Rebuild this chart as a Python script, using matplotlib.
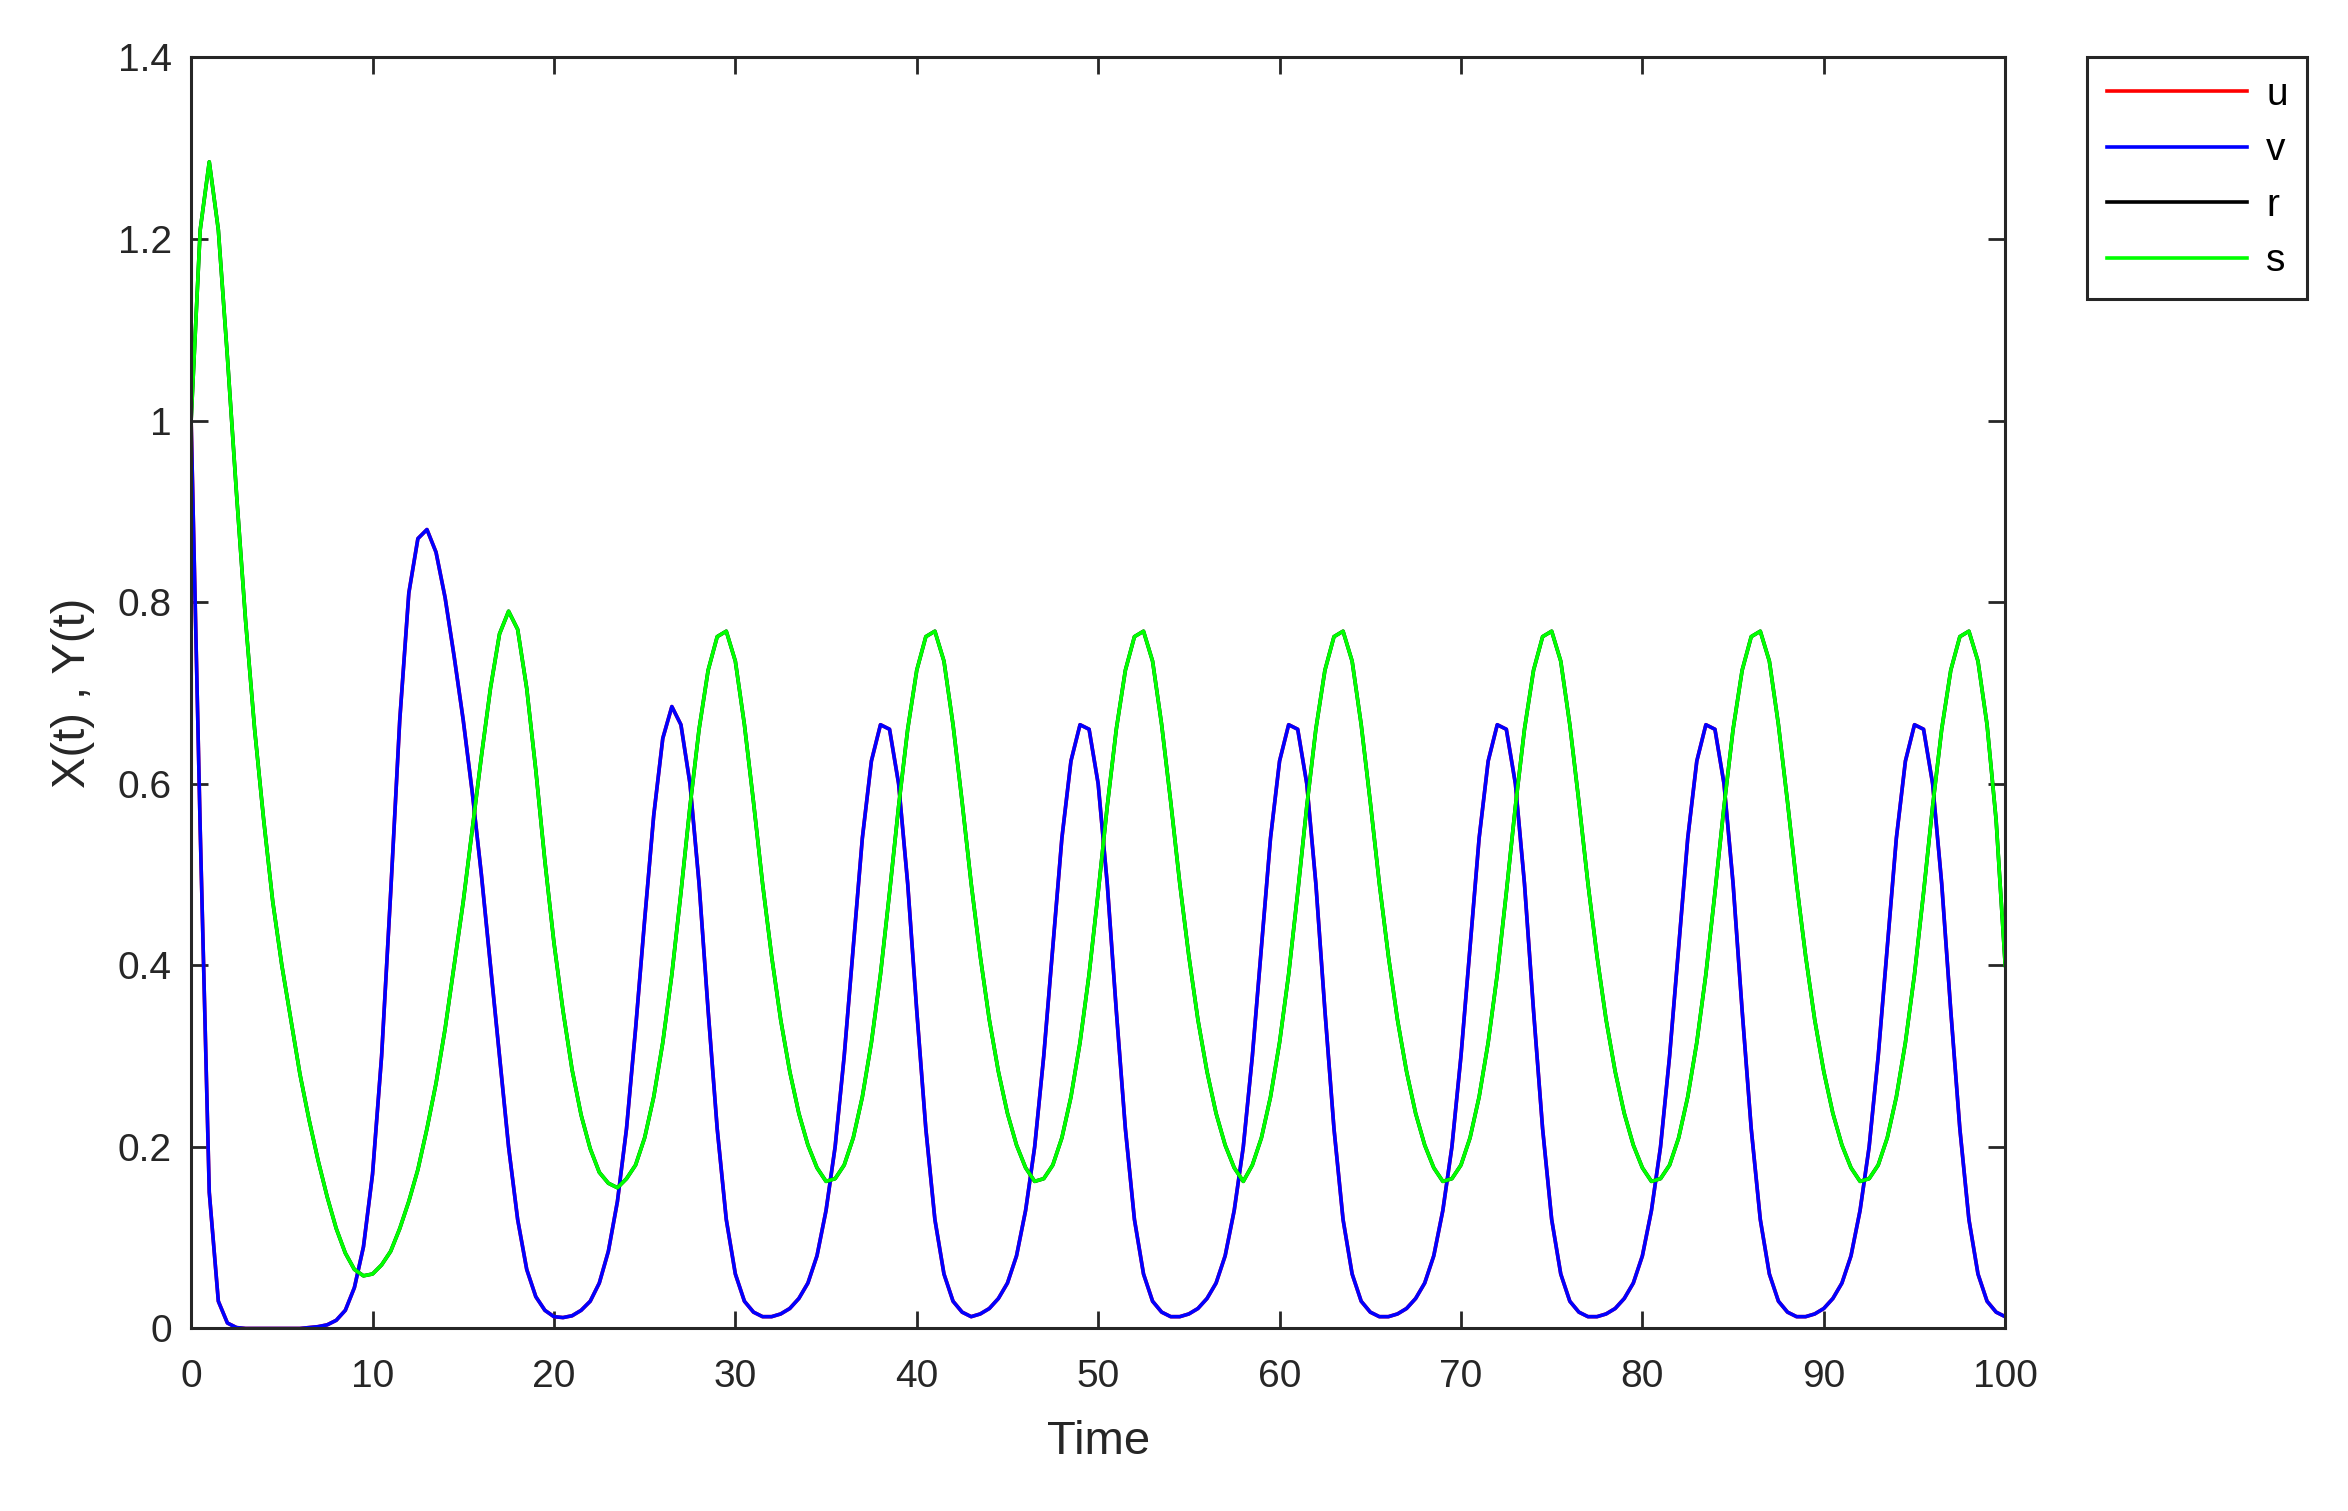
import numpy as np
import matplotlib
matplotlib.use("Agg")
import matplotlib.pyplot as plt

plt.rcParams['font.family'] = ['Liberation Sans', 'DejaVu Sans']

t = np.arange(0, 100.25, 0.5)

v_head = [1.0, 0.55, 0.15, 0.03, 0.006, 0.001, 0.0, 0.0, 0.0, 0.0, 0.0, 0.0, 0.0, 0.001, 0.002,
          0.004, 0.009, 0.02, 0.045, 0.09, 0.17, 0.3, 0.48, 0.67, 0.81, 0.87, 0.88, 0.855, 0.805,
          0.74, 0.67, 0.59, 0.5, 0.4, 0.3, 0.2, 0.12, 0.065, 0.035, 0.02, 0.013]
v_c1 = [0.012, 0.014, 0.02, 0.03, 0.05, 0.085, 0.14, 0.22, 0.33, 0.45, 0.565, 0.65, 0.685, 0.665,
        0.6, 0.49, 0.35, 0.22, 0.12, 0.06, 0.03, 0.018, 0.013]
v_c2 = [0.013, 0.016, 0.022, 0.033, 0.05, 0.08, 0.13, 0.2, 0.3, 0.42, 0.54, 0.625, 0.665, 0.66,
        0.6, 0.49, 0.35, 0.22, 0.12, 0.06, 0.03, 0.018, 0.013]
v_c3 = [0.016, 0.022, 0.033, 0.05, 0.08, 0.13, 0.2, 0.3, 0.42, 0.54, 0.625, 0.665, 0.66,
        0.6, 0.49, 0.35, 0.22, 0.12, 0.06, 0.03, 0.018, 0.013]
v_c4 = [0.013, 0.016, 0.022, 0.033, 0.05, 0.08, 0.13, 0.2, 0.3, 0.42, 0.54, 0.625, 0.665, 0.66,
        0.6, 0.49, 0.35, 0.22, 0.12, 0.06, 0.03, 0.018, 0.013]
v_c5 = [0.013, 0.016, 0.022, 0.033, 0.05, 0.08, 0.13, 0.2, 0.3, 0.42, 0.54, 0.625, 0.665, 0.66,
        0.6, 0.49, 0.35, 0.22, 0.12, 0.06, 0.03, 0.018, 0.013]
v_c6 = [0.013, 0.016, 0.022, 0.033, 0.05, 0.08, 0.13, 0.2, 0.3, 0.42, 0.54, 0.625, 0.665, 0.66,
        0.6, 0.49, 0.35, 0.22, 0.12, 0.06, 0.03, 0.018, 0.013]
v_c7 = [0.013, 0.016, 0.022, 0.033, 0.05, 0.08, 0.13, 0.2, 0.3, 0.42, 0.54, 0.625, 0.665, 0.66,
        0.6, 0.49, 0.35, 0.22, 0.12, 0.06, 0.03, 0.018, 0.013]
v = v_head + v_c1 + v_c2 + v_c3 + v_c4 + v_c5 + v_c6 + v_c7
u = list(v)

s_head = [1.0, 1.21, 1.285, 1.21, 1.07, 0.92, 0.78, 0.66, 0.56, 0.47, 0.4, 0.34, 0.28, 0.23, 0.185,
          0.145, 0.11, 0.083, 0.065, 0.058, 0.06, 0.07, 0.085, 0.11, 0.14, 0.175, 0.22, 0.27, 0.33,
          0.4, 0.47, 0.55, 0.63, 0.705, 0.765, 0.79, 0.77, 0.705, 0.615, 0.515, 0.425, 0.35, 0.285,
          0.235, 0.198, 0.172, 0.16, 0.155]
s_c1 = [0.165, 0.18, 0.21, 0.255, 0.315, 0.39, 0.48, 0.575, 0.66, 0.725, 0.762, 0.768, 0.735, 0.665,
        0.58, 0.49, 0.41, 0.34, 0.283, 0.237, 0.202, 0.177, 0.162]
s_c2 = [0.165, 0.18, 0.21, 0.255, 0.315, 0.39, 0.48, 0.575, 0.66, 0.725, 0.762, 0.768, 0.735, 0.665,
        0.58, 0.49, 0.41, 0.34, 0.283, 0.237, 0.202, 0.177, 0.162]
s_c3 = [0.165, 0.18, 0.21, 0.255, 0.315, 0.39, 0.48, 0.575, 0.66, 0.725, 0.762, 0.768, 0.735, 0.665,
        0.58, 0.49, 0.41, 0.34, 0.283, 0.237, 0.202, 0.177, 0.162]
s_c4 = [0.18, 0.21, 0.255, 0.315, 0.39, 0.48, 0.575, 0.66, 0.725, 0.762, 0.768, 0.735, 0.665,
        0.58, 0.49, 0.41, 0.34, 0.283, 0.237, 0.202, 0.177, 0.162]
s_c5 = [0.165, 0.18, 0.21, 0.255, 0.315, 0.39, 0.48, 0.575, 0.66, 0.725, 0.762, 0.768, 0.735, 0.665,
        0.58, 0.49, 0.41, 0.34, 0.283, 0.237, 0.202, 0.177, 0.162]
s_c6 = [0.165, 0.18, 0.21, 0.255, 0.315, 0.39, 0.48, 0.575, 0.66, 0.725, 0.762, 0.768, 0.735, 0.665,
        0.58, 0.49, 0.41, 0.34, 0.283, 0.237, 0.202, 0.177, 0.162]
s_tail = [0.165, 0.18, 0.21, 0.255, 0.315, 0.39, 0.48, 0.575, 0.66, 0.725, 0.762, 0.768, 0.735, 0.665,
          0.56, 0.40]
s = s_head + s_c1 + s_c2 + s_c3 + s_c4 + s_c5 + s_c6 + s_tail
r = list(s)

fig = plt.figure(figsize=(11.74, 7.555), dpi=200)
ax = fig.add_axes([0.0814, 0.1208, 0.7726, 0.8412])
lw = 1.3
l1, = ax.plot(t, u, color='#ff0000', lw=lw, label='u')
l2, = ax.plot(t, v, color='#0000ff', lw=lw, label='v')
l3, = ax.plot(t, r, color='#000000', lw=lw, label='r')
l4, = ax.plot(t, s, color='#00ff00', lw=lw, label='s')

ax.set_xlim(0, 100)
ax.set_ylim(0, 1.4)
ax.set_xticks(np.arange(0, 101, 10))
ax.set_yticks([0, 0.2, 0.4, 0.6, 0.8, 1.0, 1.2, 1.4])
ax.set_yticklabels(['0', '0.2', '0.4', '0.6', '0.8', '1', '1.2', '1.4'])
ax.tick_params(direction='in', top=True, right=True, length=6, width=1.0,
               labelsize=14, colors='#262626', pad=7)
ax.tick_params(axis='x', pad=11)
for sp in ax.spines.values():
    sp.set_linewidth(1.1)
    sp.set_color('#262626')
ax.set_xlabel('Time', fontsize=17, color='#262626', labelpad=9)
ax.set_ylabel('X(t) , Y(t)', fontsize=17, color='#262626', labelpad=8)

leg = fig.legend(handles=[l1, l2, l3, l4], loc='upper left',
                 bbox_to_anchor=(0.889, 0.962), fontsize=14, handlelength=3.6,
                 fancybox=False, edgecolor='#262626', framealpha=1,
                 borderaxespad=0, labelspacing=0.5, handletextpad=0.5, borderpad=0.5)
leg.get_frame().set_linewidth(1.1)

fig.savefig('out.png', dpi=200)
